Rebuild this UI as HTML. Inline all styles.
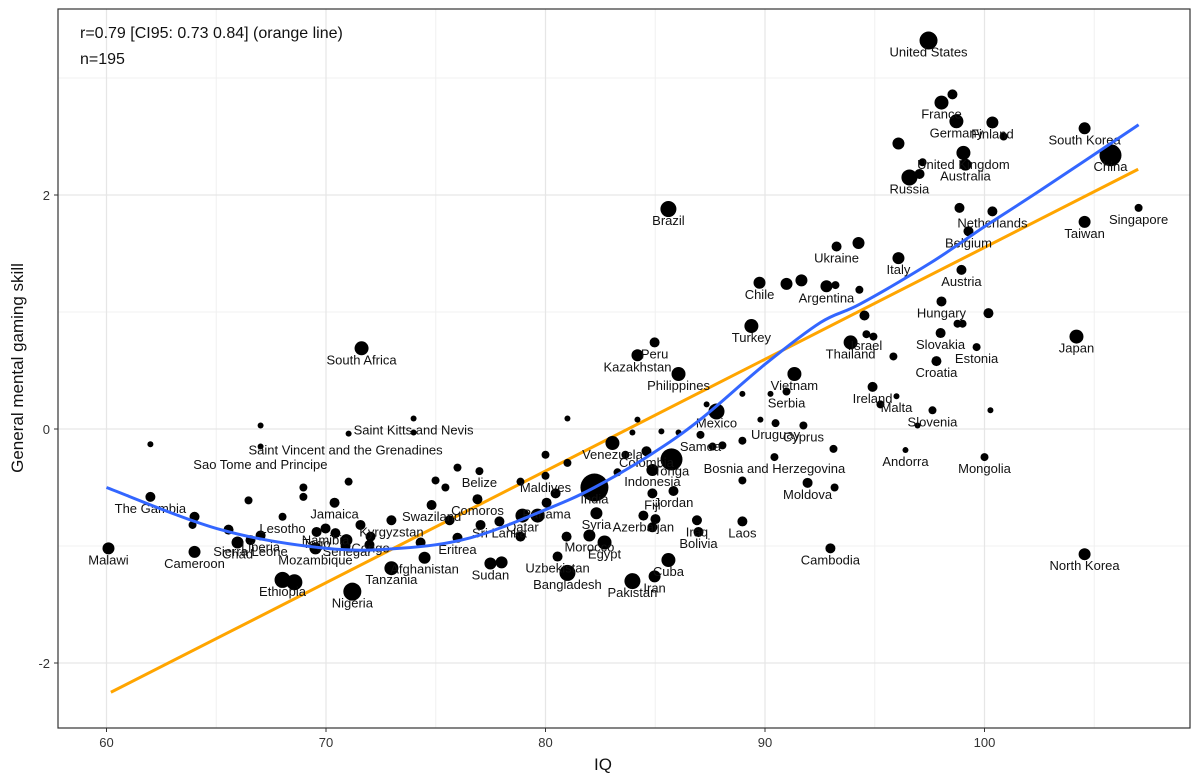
<!DOCTYPE html>
<html><head><meta charset="utf-8"><style>
body{margin:0;background:#fff;}
svg{display:block;font-family:"Liberation Sans",sans-serif;}
</style></head><body>
<svg id="chart" width="1200" height="780">
<rect x="0" y="0" width="1200" height="780" fill="#fff"/>
<g id="grid"></g>
<g id="lines"></g>
<g id="pts"></g>
<g id="labels"></g>
<rect x="58" y="9" width="1132" height="719" fill="none" stroke="#333" stroke-width="1.2"/>
<g id="axes"></g>
<text x="80" y="38" font-size="16" fill="#111">r=0.79 [CI95: 0.73 0.84] (orange line)</text>
<text x="80" y="64" font-size="16" fill="#111">n=195</text>
<text x="603" y="770" font-size="17" fill="#111" text-anchor="middle">IQ</text>
<text transform="translate(23,368) rotate(-90)" font-size="17" fill="#111" text-anchor="middle">General mental gaming skill</text>
</svg>
<script>
const iq=[97.45,98.54,98.04,98.72,100.36,100.87,104.56,105.74,99.04,99.13,97.18,97.04,96.58,96.08,100.36,98.86,85.6,107.02,104.56,99.27,93.26,94.26,96.08,98.95,89.75,90.98,91.66,92.8,93.21,94.3,98.04,100.18,89.38,94.53,94.62,93.9,94.94,98.0,98.77,99.0,99.64,97.81,104.19,71.62,84.19,84.97,86.06,91.34,95.85,94.9,95.26,90.98,95.99,90.48,91.75,97.63,96.95,96.4,100,100.27,92.98,104.56,91.94,93.17,90.43,93.12,87.79,87.06,85.74,83.05,84.6,84.87,82.23,80,80.05,78.95,79.64,77.9,82.32,82.0,82.69,84.46,84.87,85.83,85.6,84.97,83.96,81.0,80.55,86.97,86.9,88.97,77.49,78.0,74.49,72.98,71.2,68.02,68.56,70.93,69.52,69.57,72.03,71.98,65.97,64.01,60.09,66.56,67.02,68.02,62.0,69.98,70.39,72.98,74.81,75.99,76.9,76.99,73.99,73.99,71.03,67.02,67.02,62.0,
64.01,63.92,66.47,68.97,68.97,71.03,74.99,75.44,75.99,78.86,80.0,81.0,81.0,83.28,83.64,83.96,84.19,85.28,86.06,87.34,88.97,88.97,88.06,89.79,90.25,87.61,84.87,85.01,80.96,78.86,80.46,77.04,75.63,74.31,71.57,70.89,70.43,65.56,88.97];
const skill=[3.32,2.86,2.79,2.63,2.62,2.50,2.57,2.34,2.36,2.26,2.28,2.18,2.15,2.44,1.86,1.89,1.88,1.89,1.77,1.69,1.56,1.59,1.46,1.36,1.25,1.24,1.27,1.22,1.23,1.19,1.09,0.99,0.88,0.97,0.81,0.74,0.79,0.82,0.90,0.90,0.70,0.58,0.79,0.69,0.63,0.74,0.47,0.47,0.62,0.36,0.21,0.32,0.28,0.05,0.03,0.16,0.03,-0.18,-0.24,0.16,-1.02,-1.07,-0.46,-0.50,-0.24,-0.17,0.15,-0.05,-0.26,-0.12,-0.19,-0.35,-0.50,-0.40,-0.63,-0.74,-0.74,-0.79,-0.72,-0.91,-0.97,-0.74,-0.55,-0.53,-1.12,-1.26,-1.30,-1.23,-1.09,-0.88,-0.78,-0.79,-1.15,-1.14,-1.10,-1.19,-1.39,-1.29,-1.31,-0.95,-1.02,-0.88,-0.92,-0.99,-0.97,-1.05,-1.02,-0.95,-0.91,-0.75,-0.58,-0.85,-0.63,-0.78,-0.65,-0.93,-0.60,-0.36,0.09,-0.03,-0.04,-0.15,0.03,-0.13,
-0.75,-0.82,-0.61,-0.50,-0.58,-0.45,-0.44,-0.50,-0.33,-0.45,-0.22,0.09,-0.29,-0.37,-0.22,-0.03,0.08,-0.02,-0.03,0.21,-0.10,-0.44,-0.14,0.08,0.30,-0.15,-0.84,-0.77,-0.92,-0.92,-0.55,-0.82,-0.78,-0.97,-0.82,-1.0,-0.89,-0.86,0.30];
const pop=[9,5,7,7,6,4,6,11,7,6,4,5,8,6,5,5,8,4,6,5,5,6,6,5,6,6,6,6,4,4,5,5,7,5,4,7,4,5,4,4,4,5,7,7,6,5,7,7,4,5,4,4,3,4,4,4,3,3,4,3,5,6,5,4,4,4,8,4,11,7,5,6,14,4,5,7,7,5,6,6,7,5,5,5,7,6,8,8,5,5,5,5,6,6,6,7,9,8,8,6,6,5,5,5,6,6,6,5,5,4,5,5,5,5,5,5,5,4,3,3,3,3,3,3,
5,4,4,4,4,4,4,4,4,4,4,3,4,4,4,3,3,3,3,3,4,4,4,3,3,4,5,5,5,5,5,5,5,5,5,5,5,5,3];
const names=["United States","","France","Germany","Finland","","South Korea","China","United Kingdom","Australia","","","Russia","","Netherlands","","Brazil","Singapore","Taiwan","Belgium","Ukraine","","Italy","Austria","Chile","","","Argentina","","","Hungary","","Turkey","","Israel","Thailand","","Slovakia","","","Estonia","Croatia","Japan","South Africa","Kazakhstan","Peru","Philippines","Vietnam","","Ireland","","Serbia","Malta","Uruguay","Cyprus","Slovenia","","Andorra","Mongolia","","Cambodia","North Korea","Moldova","","Bosnia and Herzegovina","","Mexico","Samoa","Tonga","Venezuela","Colombia","Indonesia","India","Maldives","Panama","Qatar","","Sri Lanka","Syria","Morocco","Egypt","Azerbaijan","Fiji","Jordan","Cuba","Iran","Pakistan","Bangladesh","Uzbekistan","Bolivia","Iraq","Laos","Sudan","","Afghanistan","Tanzania","Nigeria","Ethiopia","","Senegal","Mozambique","Togo","Congo","","Chad","Cameroon","Malawi","Sierra Leone","Liberia","Lesotho","The Gambia","Namibia","Jamaica","Kyrgyzstan","Swaziland","Eritrea","Comoros","Belize","Saint Kitts and Nevis","","","Saint Vincent and the Grenadines","","Sao Tome and Principe"];
const linIq=[60.2,107.0];
const linSkill=[-2.25,2.22];
const loessIq=[60,65.19,69.98,73.39,76.58,80,82.23,84.78,87.05,89.98,92.53,94.35,97.54,100,102.55,107.02];
const loessSkill=[-0.50,-0.86,-1.02,-1.02,-0.93,-0.69,-0.50,-0.22,0.08,0.55,0.91,1.07,1.42,1.73,2.04,2.60];
const xTicks=[60,70,80,90,100];
const xMinor=[65,75,85,95,105];
const yTicks=[-2,0,2];
const yMinor=[-1,1,3];

const labelShift={"Sao Tome and Principe":[110,9],"Saint Vincent and the Grenadines":[85,-8]};
const NS="http://www.w3.org/2000/svg";
const X=v=>106.5+(v-60)*21.95;
const Y=v=>429-v*117;
function mk(tag,attrs,parent){const e=document.createElementNS(NS,tag);for(const k in attrs)e.setAttribute(k,attrs[k]);parent.appendChild(e);return e;}
const grid=document.getElementById('grid'),axes=document.getElementById('axes');
xMinor.forEach(v=>{const l=mk('line',{x1:X(v),x2:X(v),y1:9,y2:728,stroke:'#f0f0f0','stroke-width':1},grid);

});
yMinor.forEach(v=>{const l=mk('line',{x1:58,x2:1190,y1:Y(v),y2:Y(v),stroke:'#f0f0f0','stroke-width':1},grid);

});
xTicks.forEach(v=>{const l=mk('line',{x1:X(v),x2:X(v),y1:9,y2:728,stroke:'#e6e6e6','stroke-width':1.2},grid);


const t=mk('line',{x1:X(v),x2:X(v),y1:728,y2:732,stroke:'#333'},axes);


const tx=mk('text',{x:X(v),y:747,'font-size':13,fill:'#333','text-anchor':'middle'},axes);tx.textContent=v;

});
yTicks.forEach(v=>{const l=mk('line',{x1:58,x2:1190,y1:Y(v),y2:Y(v),stroke:'#e6e6e6','stroke-width':1.2},grid);


const t=mk('line',{x1:54,x2:58,y1:Y(v),y2:Y(v),stroke:'#333'},axes);


const tx=mk('text',{x:50,y:Y(v)+5,'font-size':13,fill:'#333','text-anchor':'end'},axes);tx.textContent=v;

});
const lines=document.getElementById('lines');
const lo=mk('line',{x1:X(linIq[0]),y1:Y(linSkill[0]),x2:X(linIq[1]),y2:Y(linSkill[1]),stroke:'#FFA500','stroke-width':3},lines);


const pts=document.getElementById('pts'),labs=document.getElementById('labels');
for(let i=0;i<iq.length;i++){
 const c=mk('circle',{cx:X(iq[i]),cy:Y(skill[i]),r:pop[i],fill:'#000'},pts);
 
 
 if(names[i]){
  const s=labelShift[names[i]]||[0,0];
  const t=mk('text',{x:X(iq[i])+s[0],y:Y(skill[i])+16+s[1],'font-size':13,fill:'#111','text-anchor':'middle'},labs);
  t.textContent=names[i];
  
  
 }
}
const P=loessIq.map((v,i)=>[X(v),Y(loessSkill[i])]);
let d='M'+P[0][0].toFixed(1)+','+P[0][1].toFixed(1);
for(let i=0;i<P.length-1;i++){
 const p0=P[Math.max(0,i-1)],p1=P[i],p2=P[i+1],p3=P[Math.min(P.length-1,i+2)];
 const c1=[p1[0]+(p2[0]-p0[0])/6,p1[1]+(p2[1]-p0[1])/6];
 const c2=[p2[0]-(p3[0]-p1[0])/6,p2[1]-(p3[1]-p1[1])/6];
 d+='C'+c1[0].toFixed(1)+','+c1[1].toFixed(1)+' '+c2[0].toFixed(1)+','+c2[1].toFixed(1)+' '+p2[0].toFixed(1)+','+p2[1].toFixed(1);
}
const bl=mk('path',{d:d,fill:'none',stroke:'#3366FF','stroke-width':3,'stroke-linejoin':'round'},labs);


</script>
</body></html>
